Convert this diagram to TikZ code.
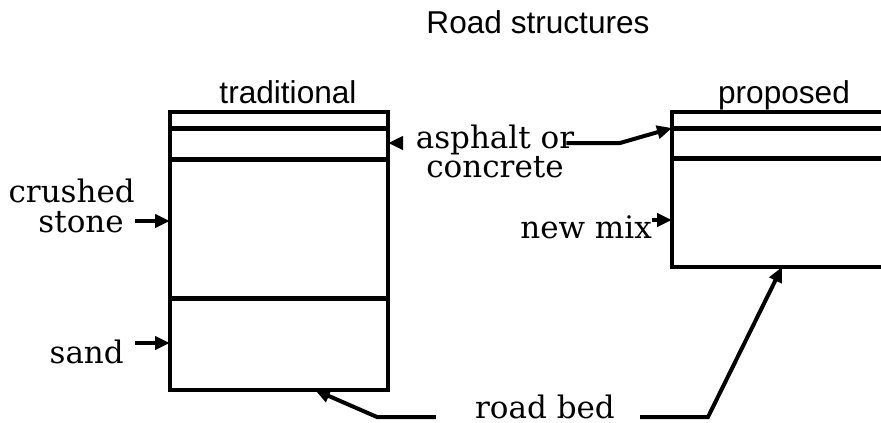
\documentclass[tikz,border=0pt]{standalone}
\usepackage{fontspec}
\setmainfont{DejaVu Serif}
\setsansfont{Liberation Sans}
\usetikzlibrary{arrows.meta}

\begin{document}
\begin{tikzpicture}[
    x=1pt, y=-1pt, % pixel-like units
    heading/.style={font=\sffamily\fontsize{31.6}{36}\selectfont, inner sep=0pt},
    material/.style={font=\fontsize{31}{30}\selectfont, inner sep=0pt},
    wall/.style={line width=3.5pt},
    seam/.style={line width=5pt},
    pointer/.style={-{Triangle[length=15pt,width=13pt]}, line width=4pt}
]
\useasboundingbox (0,0) rectangle (881,423);
\clip (0,0) rectangle (881,423);

\node[heading, anchor=base] (roadtitle) at (538,34) {Road structures};
\node[heading, anchor=base] (trad) at (288,103) {traditional};
\node[heading, anchor=base] (prop) at (784,103) {proposed};

% traditional
\draw[wall] (170,112) rectangle (388,390);
\draw[seam] (170,128) -- (388,128);
\draw[seam] (170,159) -- (388,159);
\draw[seam] (170,298) -- (388,298);

% proposed
\draw[wall] (672,112) rectangle (900,267);
\draw[seam] (672,128) -- (900,128);
\draw[seam] (672,158) -- (900,158);

\coordinate (tradAsph) at (388,143);
\coordinate (tradStone) at (170,221);
\coordinate (tradSand) at (170,343);
\coordinate (tradBed) at (315,390);
\coordinate (propAsph) at (672,128);
\coordinate (propMix) at (672,220);
\coordinate (propBed) at (782,267);

\node[material, anchor=base east, align=right] (stone) at (135,232) {crushed\\stone\hspace*{11pt}};
\node[material, anchor=base east] (sand) at (124,363) {sand};
\node[material, anchor=base, align=center, font=\fontsize{31}{24}\selectfont] (asph) at (495,177) {asphalt or\\concrete};
\node[material, anchor=base east] (mix) at (652,238) {new mix};
\node[material, anchor=base] (bed) at (545,418) {road bed};

\draw[pointer] (stone.east |- tradStone) -- (tradStone);
\draw[pointer] ([xshift=11pt]sand.east |- tradSand) -- (tradSand);
\draw[pointer] ([xshift=-14pt]asph.west |- tradAsph) -- (tradAsph);
\draw[pointer] ([xshift=-8pt]asph.east |- tradAsph) -- (620,143) -- (propAsph);
\draw[pointer] (mix.east |- propMix) -- (propMix);
\draw[pointer] ([xshift=-39pt,yshift=1pt]bed.base west) -- (377,417) -- (tradBed);
\draw[pointer] ([xshift=25pt,yshift=1pt]bed.base east) -- (708,417) -- (propBed);

\end{tikzpicture}
\end{document}
